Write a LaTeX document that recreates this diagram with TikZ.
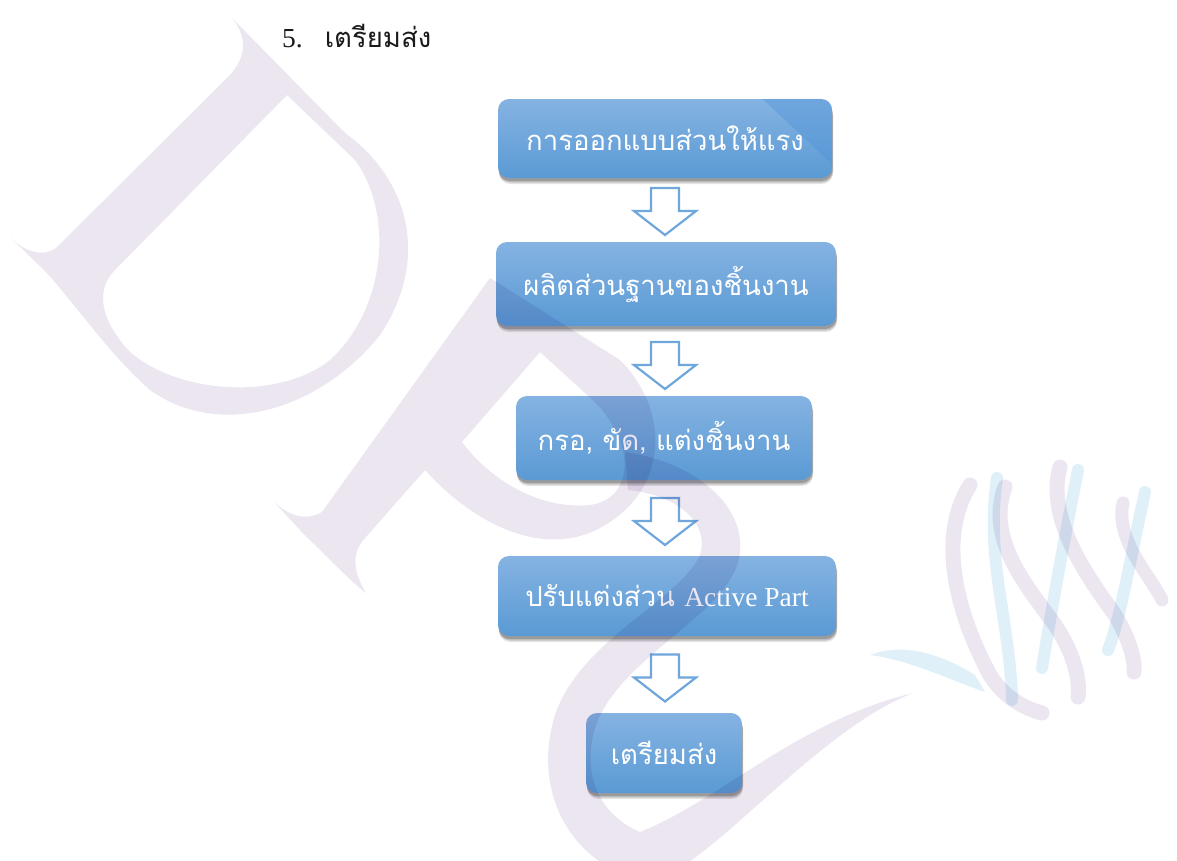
\documentclass[tikz,border=0pt]{standalone}
\usepackage{fontspec}
\setmainfont{Liberation Serif}
\newfontfamily\thaifont[Script=Thai]{Loma}
\usetikzlibrary{shadows,calc}
\definecolor{boxtop}{HTML}{85B3E2}
\definecolor{boxbot}{HTML}{5A9AD4}
\definecolor{boxgloss}{HTML}{4A8FD8}
\definecolor{arrowc}{HTML}{6FA6DC}
\definecolor{wmlav}{HTML}{ECE6F1}
\definecolor{wmcyan}{HTML}{DFF0F9}
\definecolor{titlec}{HTML}{1A1A1A}
\tikzset{
  flowbox/.style={rounded corners=11pt, top color=boxtop, bottom color=boxbot,
    draw=none, text=white, inner sep=0pt,
    font=\thaifont\fontsize{27.5}{32}\selectfont,
    drop shadow={shadow xshift=1pt, shadow yshift=-6pt, opacity=0.10, fill=black},
    drop shadow={shadow xshift=1pt, shadow yshift=-4.5pt, opacity=0.15, fill=black},
    drop shadow={shadow xshift=0.5pt, shadow yshift=-3pt, opacity=0.2, fill=black}},
  blockarr/.style={draw=arrowc, line width=2.2pt, fill=white, line join=miter},
  wmband/.style={draw=wmlav, line cap=round},
  wmband2/.style={draw=wmcyan, line cap=round}
}
\newcommand\flowarrow[3]{%
  \draw[blockarr] let \p1=($(#1.south)!0.5!(#2.north)$) in
    (665pt-14pt,\y1+23pt-#3) -- (665pt+14pt,\y1+23pt-#3) -- (665pt+14pt,\y1-#3)
    -- (665pt+31pt,\y1-#3) -- (665pt,\y1-24pt-#3) -- (665pt-31pt,\y1-#3)
    -- (665pt-14pt,\y1-#3) -- cycle;}
\begin{document}
\begin{tikzpicture}[x=1pt,y=-1pt]
\useasboundingbox[fill=white] (0,0) rectangle (1177,860);

% title
\node[anchor=base west, inner sep=0pt, text=titlec,
      font=\fontsize{27.5}{32}\selectfont] (title) at (282,47)
      {5.\hspace{22pt}{\thaifont เตรียมส่ง}};

% boxes
\node[flowbox, minimum width=334pt, minimum height=79pt] (b1) at (665,138.5) {การออกแบบส่วนให้แรง};
\begin{scope}
  \clip[rounded corners=11pt] ($(b1.south west)$) rectangle ($(b1.north east)$);
  \fill[boxgloss, opacity=0.35] let \p1=(b1.north east), \p2=(b1.south east) in
    (\x1-70pt,\y1) -- (\x1,\y1) -- (\x2,\y2+14pt) -- cycle;
\end{scope}
\node[flowbox, minimum width=340pt, minimum height=84pt] (b2) at (666,284) {ผลิตส่วนฐานของชิ้นงาน};
\node[flowbox, minimum width=296pt, minimum height=84pt] (b3) at (664,438) {กรอ, ขัด, แต่งชิ้นงาน};
\node[flowbox, minimum width=338pt, minimum height=80pt] (b4) at (667,596) {ปรับแต่งส่วน {\rmfamily Active Part}};
\node[flowbox, minimum width=156pt, minimum height=80pt] (b5) at (664,753) {เตรียมส่ง};

% block arrows between boxes
\flowarrow{b1}{b2}{1pt}
\flowarrow{b2}{b3}{4pt}
\flowarrow{b3}{b4}{3pt}
\flowarrow{b4}{b5}{3pt}

% watermark
\begin{scope}[blend mode=multiply]
  % D
  \fill[wmlav, even odd rule]
    (232,18) .. controls (246,35) and (248,55) .. (230,75) -- (57,247)
      .. controls (45,258) and (25,252) .. (11,238) -- (46,272)
      .. controls (80,310) and (110,355) .. (150,390)
      .. controls (220,440) and (320,410) .. (380,335)
      .. controls (430,260) and (410,180) .. (345,133) -- cycle
    (287,95) -- (355,160) .. controls (395,215) and (385,310) .. (330,360)
      .. controls (280,400) and (180,395) .. (130,352)
      .. controls (100,320) and (95,290) .. (115,270) -- cycle;
  % P
  \fill[wmlav, even odd rule]
    (490,278) -- (322,512) .. controls (305,522) and (288,515) .. (274,502)
      -- (300,530) .. controls (335,565) and (355,585) .. (366,593)
      .. controls (352,570) and (352,552) .. (365,538) -- (425,470)
      .. controls (470,520) and (540,560) .. (600,528)
      .. controls (670,490) and (670,410) .. (620,360) -- cycle
    (540,352) -- (595,402) .. controls (640,450) and (630,500) .. (590,505)
      .. controls (540,510) and (490,480) .. (462,442) -- cycle;
  % S band with its tail, one outline
  \fill[wmlav]
    (625,452) .. controls (710,465) and (755,520) .. (736,568)
      .. controls (715,620) and (620,660) .. (596,725)
      .. controls (580,775) and (600,815) .. (640,832)
      .. controls (720,800) and (800,720) .. (913,693)
      .. controls (830,725) and (740,830) .. (680,868) -- (610,868)
      .. controls (560,840) and (535,780) .. (555,715)
      .. controls (580,640) and (680,600) .. (700,555)
      .. controls (710,525) and (680,495) .. (628,490) -- cycle;
  % ball - lavender ribbons
  \draw[wmband, line width=15pt]
    (970,485) .. controls (935,540) and (960,620) .. (990,675) .. controls (1005,700) and (1030,710) .. (1042,713);
  \draw[wmband, line width=15pt]
    (1005,487) .. controls (985,540) and (1030,590) .. (1055,625) .. controls (1075,655) and (1080,680) .. (1078,697);
  \draw[wmband, line width=15pt]
    (1060,467) .. controls (1045,520) and (1090,580) .. (1115,615) .. controls (1130,640) and (1135,660) .. (1134,672);
  \draw[wmband, line width=13pt]
    (1123,503) .. controls (1115,540) and (1150,575) .. (1162,600);
  % ball - cyan ribbons
  \draw[wmband2, line width=12pt]
    (997,478) .. controls (985,560) and (1010,620) .. (1012,700);
  \draw[wmband2, line width=12pt]
    (1078,470) .. controls (1060,560) and (1050,620) .. (1042,668);
  \draw[wmband2, line width=12pt]
    (1145,492) .. controls (1130,560) and (1120,620) .. (1108,650);
  \fill[wmcyan] (870,655) .. controls (910,640) and (950,660) .. (975,675)
      -- (985,692) .. controls (950,680) and (910,660) .. (870,655) -- cycle;
\end{scope}
\end{tikzpicture}
\end{document}
